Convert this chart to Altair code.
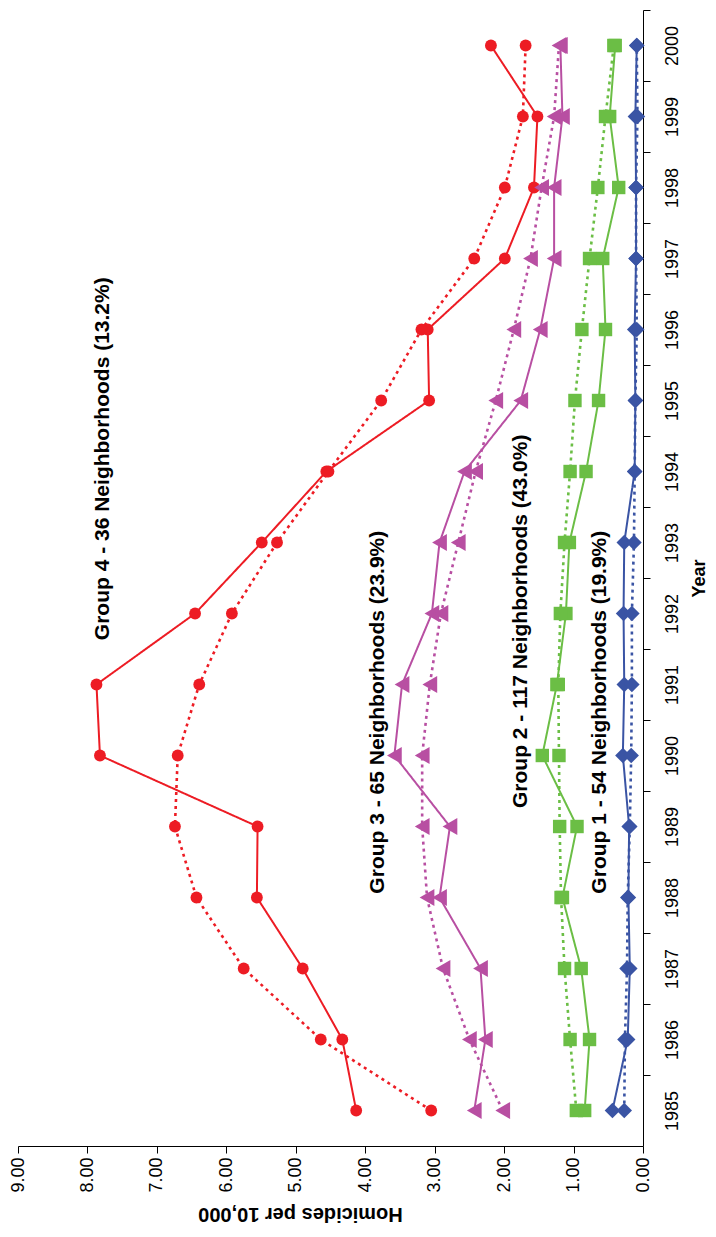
import altair as alt
import pandas as pd

years = list(range(1985, 2001))

g4_solid = [4.13, 4.33, 4.90, 5.56, 5.55, 7.82, 7.87, 6.45, 5.49, 4.56, 3.08, 3.10, 1.99, 1.57, 1.52, 2.19]
g4_dotted = [3.05, 4.64, 5.75, 6.43, 6.74, 6.70, 6.39, 5.92, 5.27, 4.53, 3.77, 3.19, 2.43, 1.99, 1.73, 1.69]
g3_solid = [2.43, 2.27, 2.34, 2.93, 2.78, 3.58, 3.47, 3.04, 2.93, 2.57, 1.76, 1.48, 1.28, 1.28, 1.16, 1.19]
g3_dotted = [2.02, 2.50, 2.88, 3.11, 3.18, 3.18, 3.07, 2.91, 2.66, 2.41, 2.12, 1.86, 1.62, 1.46, 1.28, 1.21]
g2_solid = [0.84, 0.77, 0.89, 1.16, 0.95, 1.45, 1.24, 1.11, 1.06, 0.82, 0.64, 0.54, 0.58, 0.35, 0.48, 0.40]
g2_dotted = [0.96, 1.05, 1.13, 1.18, 1.20, 1.21, 1.22, 1.19, 1.13, 1.05, 0.98, 0.88, 0.77, 0.65, 0.54, 0.42]
g1_solid = [0.44, 0.22, 0.19, 0.21, 0.20, 0.29, 0.27, 0.28, 0.27, 0.12, 0.11, 0.12, 0.10, 0.10, 0.11, 0.09]
g1_dotted = [0.27, 0.26, 0.23, 0.22, 0.19, 0.17, 0.16, 0.16, 0.13, 0.12, 0.11, 0.09, 0.10, 0.10, 0.08, 0.09]

groups = ["Group 4", "Group 3", "Group 2", "Group 1"]
group_colors = ["#ED1C24", "#B84FA2", "#6BBE45", "#3A54A4"]
group_shapes = ["circle", "triangle-left", "square", "diamond"]

label_texts = [
    "Group 4 - 36 Neighborhoods (13.2%)",
    "Group 3 - 65 Neighborhoods (23.9%)",
    "Group 2 - 117 Neighborhoods (43.0%)",
    "Group 1 - 54 Neighborhoods (19.9%)",
]
label_value = [7.78, 3.81, 1.75, 0.62]
label_year = [1994.18, 1990.61, 1991.89, 1990.61]

series = [
    ("Group 4", "solid", g4_solid), ("Group 4", "dotted", g4_dotted),
    ("Group 3", "solid", g3_solid), ("Group 3", "dotted", g3_dotted),
    ("Group 2", "solid", g2_solid), ("Group 2", "dotted", g2_dotted),
    ("Group 1", "solid", g1_solid), ("Group 1", "dotted", g1_dotted),
]
rows = []
for g, s, vals in series:
    for yr, v in zip(years, vals):
        rows.append({"Group": g, "Style": s, "Series": g + " " + s, "Year": yr, "Rate": v})
df = pd.DataFrame(rows)
labels_df = pd.DataFrame({"text": label_texts, "Rate": label_value, "Year": label_year})

FONT = "Liberation Sans"
W, H = 625, 1136
band = H / 16.0

x_enc = alt.X(
    "Rate:Q",
    scale=alt.Scale(domain=[0, 9], reverse=True, nice=False, zero=False),
    axis=alt.Axis(
        orient="bottom", values=list(range(10)), format=".2f",
        labelAngle=270, labelAlign="right", labelBaseline="middle", labelFlush=False,
        tickSize=7, labelPadding=4, labelFontSize=18, labelColor="black",
        title="Homicides per 10,000", titleAngle=180, titleX=282, titleY=61,
        titleAlign="center", titleBaseline="alphabetic", titleFontSize=20,
        titleFontWeight="bold", titleColor="black",
        grid=False, domainColor="black", tickColor="black",
    ),
)
y_enc = alt.Y(
    "Year:Q",
    scale=alt.Scale(domain=[1984.5, 2000.5], nice=False, zero=False),
    axis=alt.Axis(
        orient="right", values=[yr + 0.5 for yr in years],
        labelExpr="format(datum.value - 0.5, 'd')", labelOffset=band / 2,
        labelAngle=270, labelAlign="center", labelBaseline="top",
        tickSize=7, labelPadding=13, labelFontSize=18, labelColor="black",
        title="Year", titleAngle=270, titleX=61, titleY=H / 2,
        titleAlign="center", titleBaseline="alphabetic", titleFontSize=18,
        titleFontWeight="bold", titleColor="black",
        grid=False, domainColor="black", tickColor="black",
    ),
)

color_enc = alt.Color("Group:N", scale=alt.Scale(domain=groups, range=group_colors), legend=None)

lines = alt.Chart(df).mark_line().encode(
    x=x_enc, y=y_enc, color=color_enc,
    detail="Series:N",
    order=alt.Order("Year:Q"),
    strokeDash=alt.StrokeDash("Style:N", scale=alt.Scale(domain=["solid", "dotted"], range=[[1, 0], [3, 4]]), legend=None),
    strokeWidth=alt.StrokeWidth("Style:N", scale=alt.Scale(domain=["solid", "dotted"], range=[2, 2.6]), legend=None),
)

points = alt.Chart(df).mark_point(filled=True, opacity=1).encode(
    x=x_enc, y=y_enc, color=color_enc,
    shape=alt.Shape("Group:N", scale=alt.Scale(domain=groups, range=group_shapes), legend=None),
    size=alt.Size("Group:N", scale=alt.Scale(type="ordinal", domain=groups, range=[140, 290, 180, 240]), legend=None),
)

texts = alt.Chart(labels_df).mark_text(
    angle=270, align="center", baseline="middle", fontSize=21, fontWeight="bold", font=FONT, color="black"
).encode(x=x_enc, y=y_enc, text="text:N")

chart = alt.layer(lines, points, texts).properties(
    width=W, height=H,
    autosize=alt.AutoSizeParams(type="none"),
    padding={"left": 10, "top": 2, "right": 65, "bottom": 80},
).configure_view(stroke=None).configure_axis(
    labelFont=FONT, titleFont=FONT
)

chart.save("out.html", embed_options={"renderer": "svg", "actions": False})
